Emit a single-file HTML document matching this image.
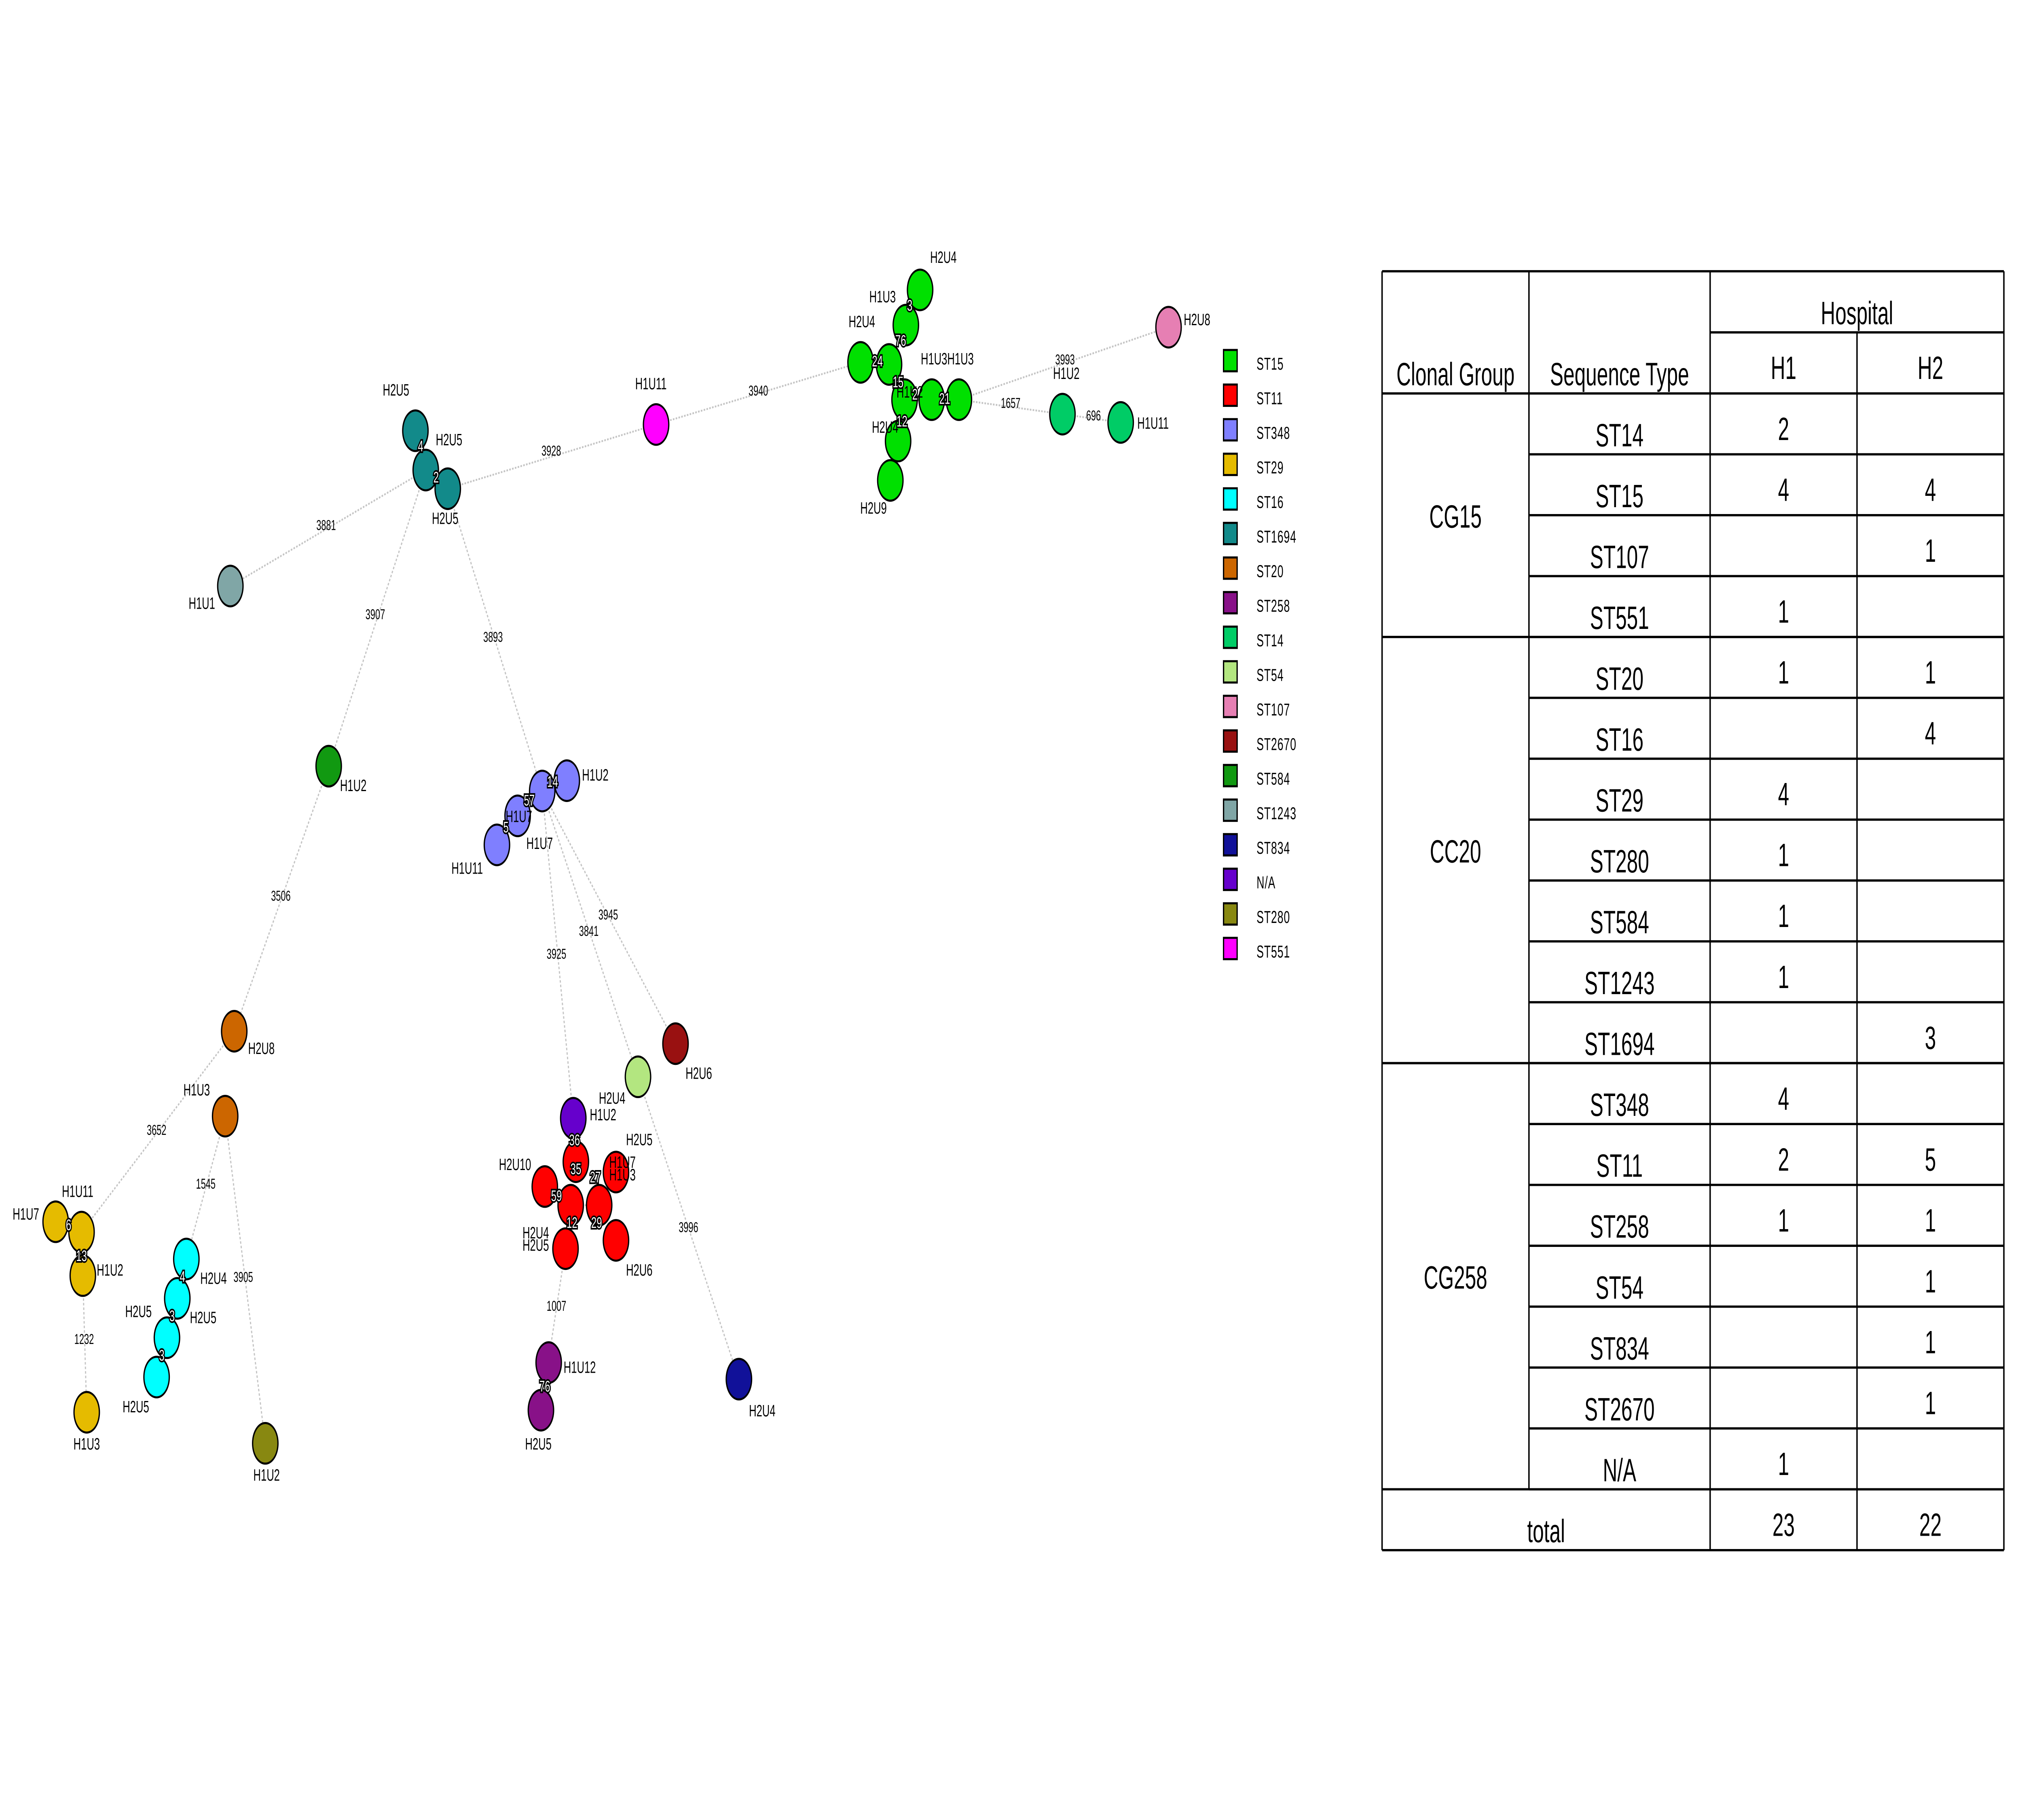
<!DOCTYPE html>
<html><head><meta charset="utf-8"><style>
html,body{margin:0;padding:0;background:#fff;overflow:hidden;width:100vw;height:100vh;}
svg{display:block;position:absolute;left:0;top:0;width:100vw;height:100vh;font-family:"Liberation Sans",Arial,sans-serif;}
</style></head><body>
<svg id="chart" viewBox="0 0 1562.5 878.9" preserveAspectRatio="none" xmlns="http://www.w3.org/2000/svg">
<rect width="1562.5" height="878.9" fill="#fff"/>
<g id="edges"></g>
<g id="nodes"></g>
<g id="legend"></g>
<g id="table"></g>
</svg>
<script>
const NS='http://www.w3.org/2000/svg';
// ---- network data ----
const stNames=['ST15','ST11','ST348','ST29','ST16','ST1694','ST20','ST258','ST14','ST54','ST107','ST2670','ST584','ST1243','ST834','N/A','ST280','ST551'];
const stColors=['#00e000','#ff0000','#7f7fff','#e5bb00','#00ffff','#128a8a','#cc6600','#881188','#00cc66','#b3e680','#e67fb3','#991111','#119911','#80a6a6','#111199','#6600cc','#888811','#ff00ff'];
const nodeX=[321,329,346,178,507,711,700,665,687,699,720,741,694,688,821,866,903,254,181,174,43,63,64,67,144,137,129,121,205,438,419,400,384,443,445,421,441,463,476,476,437,424,418,571,493,522];
const nodeY=[208,227,236,283,205,140,157,175,176,193,193,193,213,232,200,204,158,370,498,539,590,595,616,682,608,627,646,665,697,377,382,394,408,540,561,573,582,582,566,599,603,658,681,666,520,504];
const nodeST=[5,5,5,13,17,0,0,0,0,0,0,0,0,0,8,8,10,12,6,6,3,3,3,3,4,4,4,4,16,2,2,2,2,15,1,1,1,1,1,1,1,7,7,14,9,11];
const nodeLabels=[
['H2U5',306,191],['H2U5',347,215],['H2U5',344,253],['H1U1',156,294],['H1U11',503,188],
['H2U4',729,127],['H1U3',682,146],['H2U4',666,158],['',0,0],['H1U2',703,192],['H1U3H1U3',732,176],['',0,0],['H2U4',684,209],['H2U9',675,248],
['H1U2',824,183],['H1U11',891,207],['H2U8',925,157],['H1U2',273,382],['H2U8',202,509],['H1U3',152,529],
['H1U7',20,589],['H1U11',60,578],['H1U2',85,616],['H1U3',67,700],
['H2U4',165,620],['H2U5',157,639],['H2U5',107,636],['H2U5',105,682],['H1U2',206,715],
['H1U2',460,377],['H1U7',401,397],['H1U7',417,410],['H1U11',361,422],
['H1U2',466,541],['H1U7',481,564],['H2U10',398,565],['H2U4',414,598],['H1U3',481,570],['H2U5',494,553],['H2U6',494,616],['H2U5',414,604],['H1U12',448,663],['H2U5',416,700],['H2U4',589,684],['H2U4',473,533],['H2U6',540,521]
];
const edgeFrom=[1,2,4,1,17,18,19,19,2,30,30,30,40,44,11,11,14,0,1,29,20,21,22,24,25,26,33,34,36,37,36,37,41, 5,6,7,8,9,10,12,30,31];
const edgeTo  =[3,4,7,17,18,21,24,28,30,33,44,45,42,43,14,16,15,1,2,31,21,22,23,25,26,27,34,36,37,38,40,39,42, 6,8,8,9,10,11,9,31,32];
const edgeDist=[3881,3928,3940,3907,3506,3652,1545,3905,3893,3925,3841,3945,1007,3996,1657,3993,696,4,2,14,6,13,1232,4,3,3,36,35,59,27,12,29,76, 3,76,24,15,2,21,12,57,5];
const edgeLabelPos=[[252,256],[426,220],[586,191],[290,299],[217,435],[121,548],[159,574],[188,619],[381,310],[430,463],[455,452],[470,444],[430,633],[532,595],[781,197],[823,176],[845,203],[325,218],[337,233],[427,380],[53,594],[63,609],[65,649],[141,619],[133,638],[125,657],[444,553],[445,567],[430,580],[460,571],[442,593],[461,593],[421,672],[703,150],[696,167],[678,177],[694,187],[707,193],[730,195],[697,206],[409,389],[391,402]];
const nodeR=9.8;

const eg=document.getElementById('edges');
const ng=document.getElementById('nodes');
function mk(tag,attrs,parent){const e=document.createElementNS(NS,tag);for(const k in attrs)e.setAttribute(k,attrs[k]);parent.appendChild(e);return e;}
for(let i=0;i<edgeFrom.length;i++){
  const a=edgeFrom[i],b=edgeTo[i];
  const l=mk('line',{x1:nodeX[a],y1:nodeY[a],x2:nodeX[b],y2:nodeY[b],stroke:'#c4c4c4','stroke-width':0.9,'stroke-dasharray':'1.2 1'},eg);
  
  
}
for(let i=0;i<nodeX.length;i++){
  const c=mk('circle',{cx:nodeX[i],cy:nodeY[i],r:nodeR,fill:stColors[nodeST[i]],stroke:'#000','stroke-width':1},ng);
  
  
}
for(let i=0;i<nodeLabels.length;i++){
  const L=nodeLabels[i]; if(!L[0])continue;
  const t=mk('text',{x:L[1],y:L[2],'font-size':8,'text-anchor':'middle',fill:'#000'},ng);
  t.textContent=L[0];
  
  
}
for(let i=0;i<edgeDist.length;i++){
  const x=edgeLabelPos[i][0], y=edgeLabelPos[i][1];
  const small=edgeDist[i]>100;
  const t=mk('text',{x:x,y:y,'font-size':small?6.8:7.5,'text-anchor':'middle',fill:small?'#000':'#fff',stroke:small?'none':'#000','stroke-width':small?0:1.6,'paint-order':'stroke'},ng);
  t.textContent=edgeDist[i];
  
  
}
const lg=document.getElementById('legend');
for(let i=0;i<stNames.length;i++){
  const y=169+i*16.7;
  const r=mk('rect',{x:945.5,y:y,width:10.5,height:10.3,fill:stColors[i],stroke:'#000','stroke-width':1},lg);
  
  
  const t=mk('text',{x:971,y:y+9.5,'font-size':8.3,fill:'#000','letter-spacing':0.3},lg);
  t.textContent=stNames[i];
  
  
}
// ---- table data ----
const groups=['CG15','CC20','CG258'];
const groupSizes=[4,7,7];
const seqTypes=['ST14','ST15','ST107','ST551','ST20','ST16','ST29','ST280','ST584','ST1243','ST1694','ST348','ST11','ST258','ST54','ST834','ST2670','N/A'];
const h1Counts=['2','4','','1','1','','4','1','1','1','','4','2','1','','','','1'];
const h2Counts=['','4','1','','1','4','','','','','3','','5','1','1','1','1',''];
const totals=['23','22'];

const tg=document.getElementById('table');
const colX=[1068,1181.5,1321.5,1435,1548.5];
const tableTop=131, hMid=160.5, hBot=190, rowH=29.4;
const nRows=seqTypes.length+1;
const tableBottom=hBot+rowH*nRows;
function ln(x1,y1,x2,y2,name){const l=mk('line',{x1:x1,y1:y1,x2:x2,y2:y2,stroke:'#000','stroke-width':1.1},tg);}
function tx(s,x,y,name,size){const t=mk('text',{x:x,y:y,'font-size':size||15.5,'text-anchor':'middle',fill:'#000'},tg);t.textContent=s;}
ln(colX[0],tableTop,colX[4],tableTop,'table-border-top');
ln(colX[0],tableBottom,colX[4],tableBottom,'table-border-bottom');
ln(colX[0],tableTop,colX[0],tableBottom,'table-border-left');
ln(colX[4],tableTop,colX[4],tableBottom,'table-border-right');
ln(colX[1],tableTop,colX[1],tableBottom-rowH,'col-line');
ln(colX[2],tableTop,colX[2],tableBottom,'col-line');
ln(colX[3],hMid,colX[3],tableBottom,'col-line');
ln(colX[2],hMid,colX[4],hMid,'header-line');
ln(colX[0],hBot,colX[4],hBot,'header-bottom-line');
tx('Hospital',(colX[2]+colX[4])/2,156.5,'hospital-header');
tx('H1',(colX[2]+colX[3])/2,183,'h1-header');
tx('H2',(colX[3]+colX[4])/2,183,'h2-header');
tx('Clonal Group',(colX[0]+colX[1])/2,186,'clonal-group-header');
tx('Sequence Type',(colX[1]+colX[2])/2,186,'sequence-type-header');
let r0=0;
for(let g=0;g<groups.length;g++){
  const yA=hBot+r0*rowH, yB=hBot+(r0+groupSizes[g])*rowH;
  tx(groups[g],(colX[0]+colX[1])/2,(yA+yB)/2+6,'group-'+groups[g].toLowerCase());
  ln(colX[0],yB,colX[4],yB,'group-line');
  r0+=groupSizes[g];
}
for(let i=0;i<seqTypes.length;i++){
  const y0=hBot+i*rowH;
  ln(colX[1],y0+rowH,colX[4],y0+rowH,'row-line');
  tx(seqTypes[i],(colX[1]+colX[2])/2,y0+25.5,'st-cell');
  if(h1Counts[i])tx(h1Counts[i],(colX[2]+colX[3])/2,y0+22.5,'h1-count');
  if(h2Counts[i])tx(h2Counts[i],(colX[3]+colX[4])/2,y0+22.5,'h2-count');
}
const yT=hBot+seqTypes.length*rowH;
tx('total',(colX[0]+colX[2])/2,yT+25.5,'total-label');
tx(totals[0],(colX[2]+colX[3])/2,yT+22.5,'total-h1');
tx(totals[1],(colX[3]+colX[4])/2,yT+22.5,'total-h2');
</script>
</body></html>
